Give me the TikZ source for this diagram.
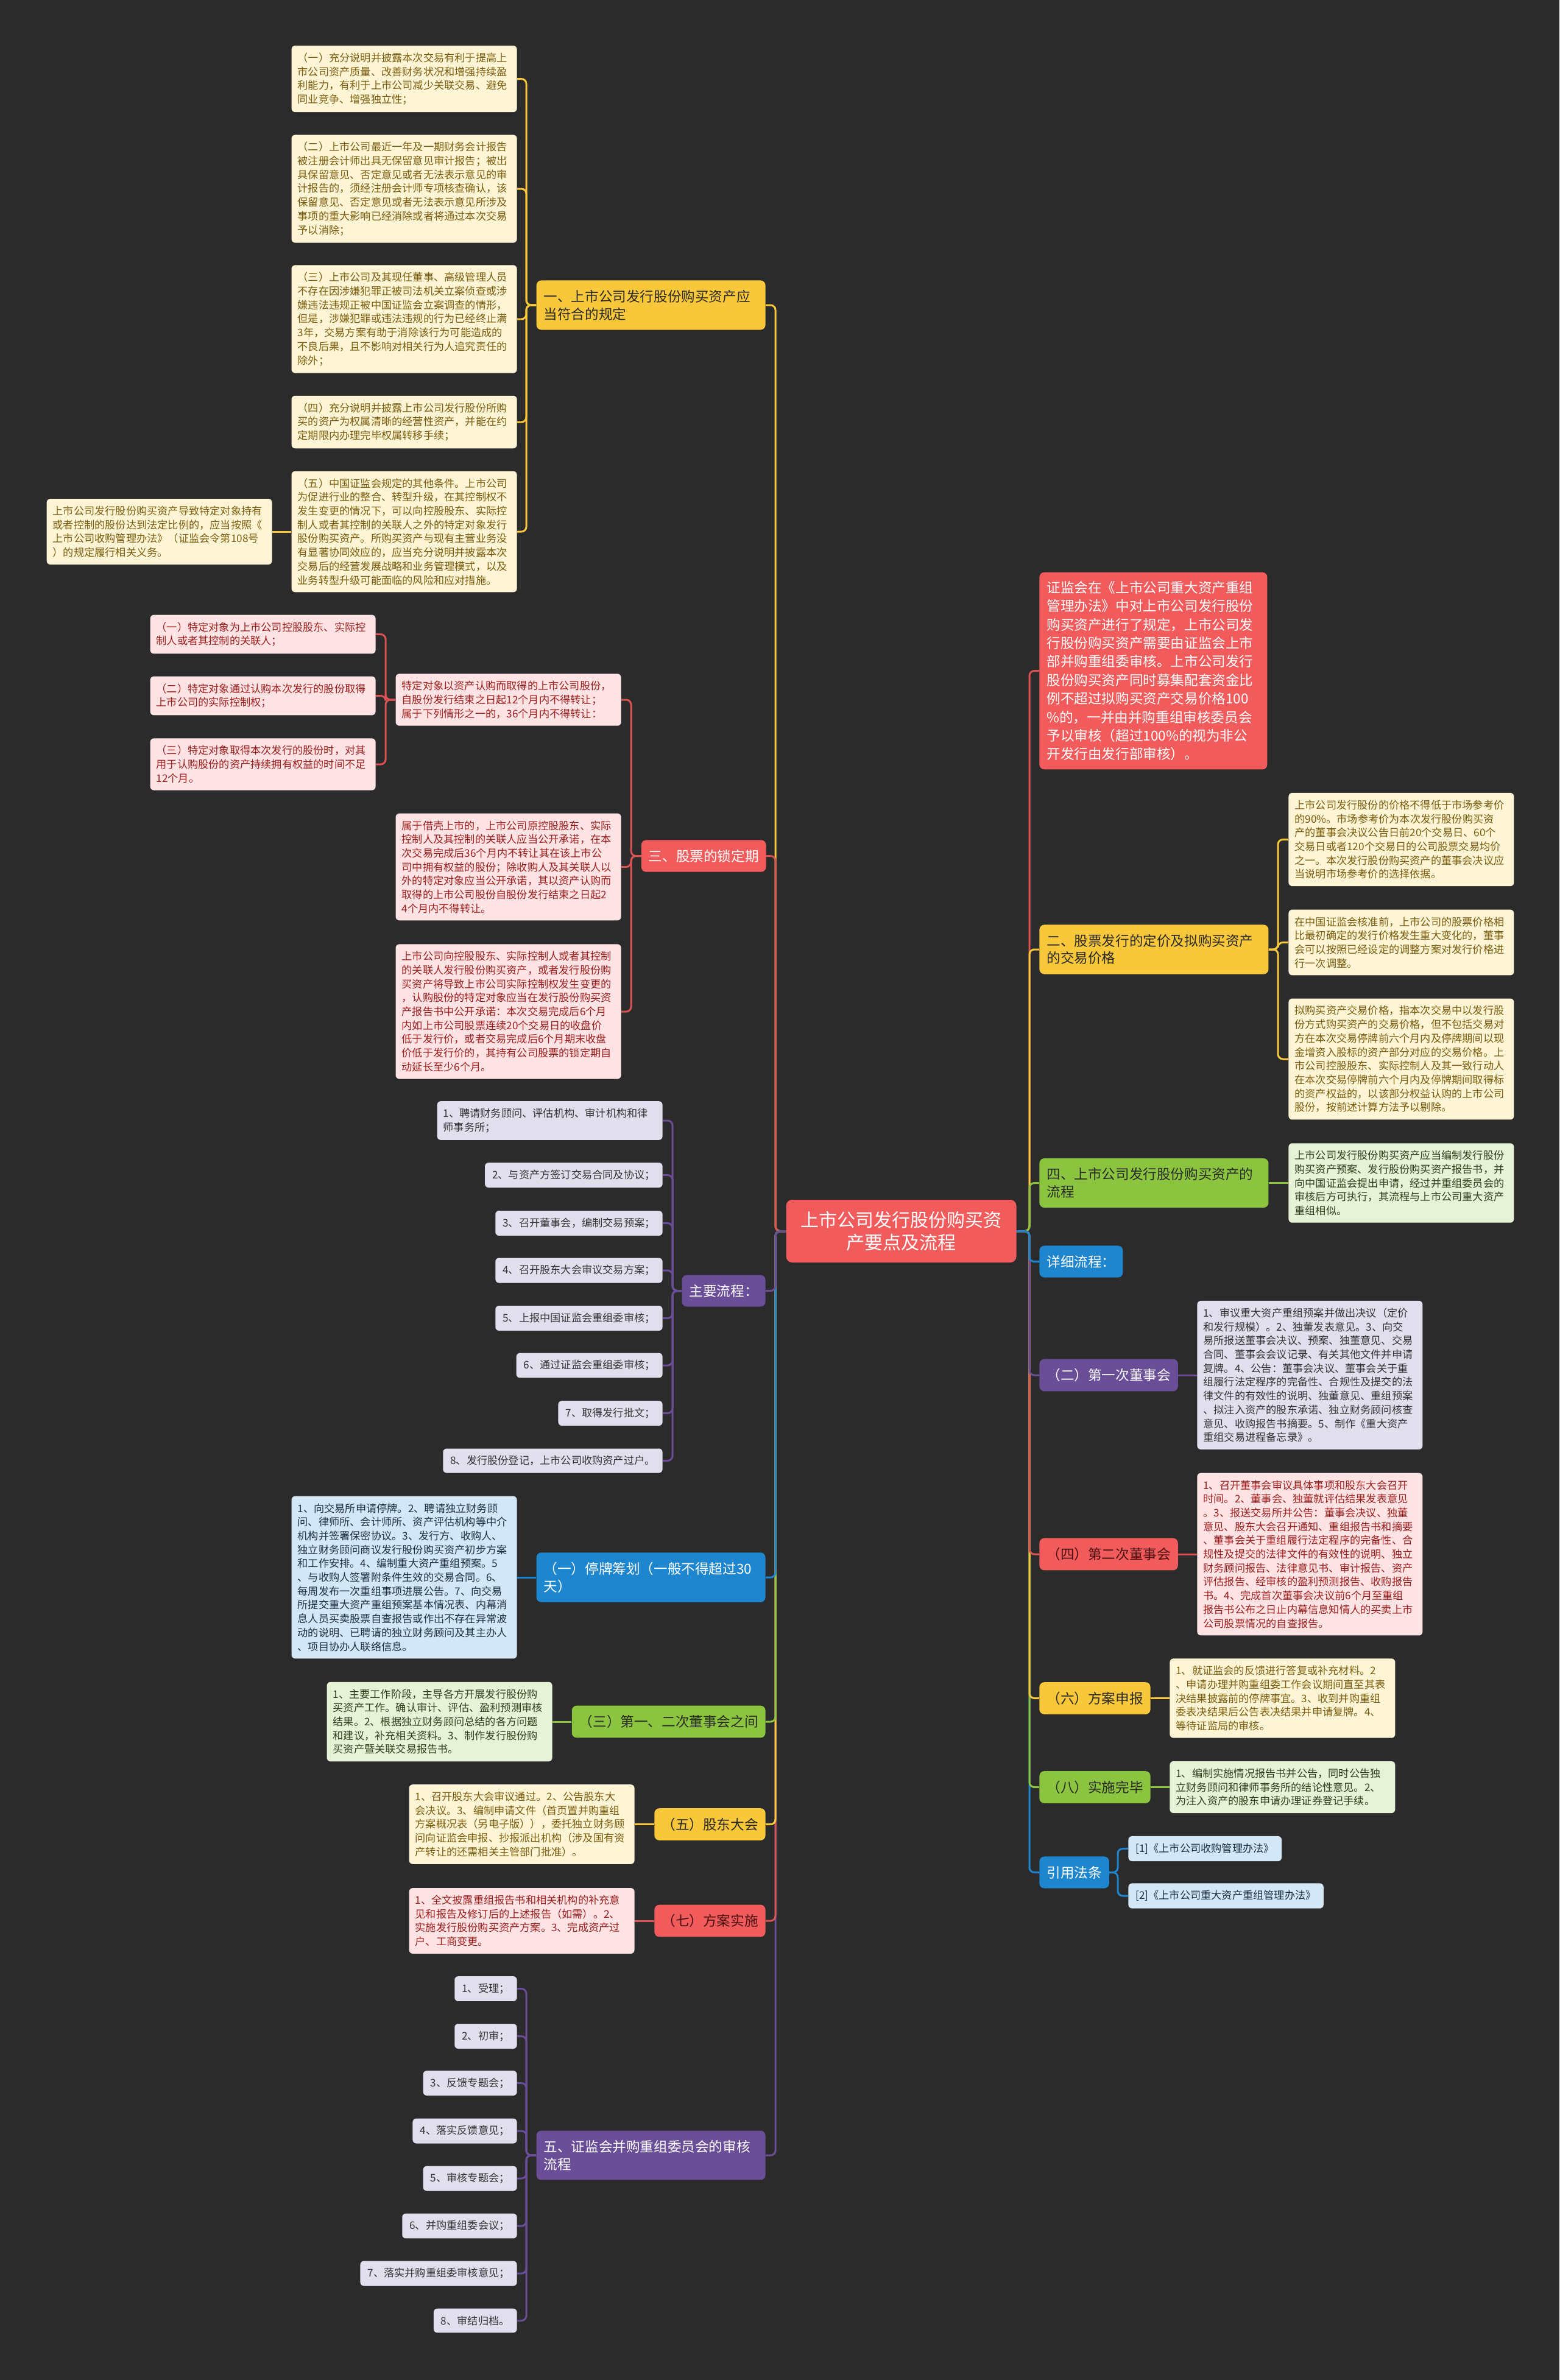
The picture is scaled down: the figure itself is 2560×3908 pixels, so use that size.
\documentclass[tikz,border=0pt]{standalone}
\usepackage{fontspec}
\setmainfont{Noto Sans CJK SC}
\definecolor{bg}{HTML}{2B2B2B}
\definecolor{cyel}{HTML}{F8C73A}
\definecolor{cred}{HTML}{F25B5B}
\definecolor{cpur}{HTML}{6A4E97}
\definecolor{cblu}{HTML}{1E86CE}
\definecolor{cgrn}{HTML}{8BC53F}
\definecolor{lyel}{HTML}{FDF5D6}
\definecolor{tyel}{HTML}{7A5C0C}
\definecolor{lred}{HTML}{FDE3E3}
\definecolor{tred}{HTML}{9E1E1E}
\definecolor{lpur}{HTML}{E1DEEE}
\definecolor{tpur}{HTML}{333333}
\definecolor{lblu}{HTML}{D3E7F6}
\definecolor{tblu}{HTML}{1C2E42}
\definecolor{lgrn}{HTML}{E6F3D6}
\definecolor{tgrn}{HTML}{2E3F1C}
\definecolor{hdark}{HTML}{2A2A2A}
\definecolor{hmar}{HTML}{4A1010}
\begin{document}
\begin{tikzpicture}[x=0.5pt,y=-0.5pt,
 leaf/.style={rounded corners=3pt, inner xsep=5pt, inner ysep=5.9pt, font=\fontsize{8.6pt}{11.35pt}\selectfont, align=left},
 lw/.style={text width=175pt},
 sgl/.style={inner xsep=6pt},
 hdr/.style={rounded corners=4pt, inner xsep=6pt, inner ysep=7.8pt, font=\fontsize{11.3pt}{14.4pt}\selectfont, align=left},
 hw/.style={text width=176pt},
 Ly/.style={leaf, fill=lyel, text=tyel},
 Lr/.style={leaf, fill=lred, text=tred},
 Lp/.style={leaf, fill=lpur, text=tpur},
 Lb/.style={leaf, fill=lblu, text=tblu},
 Lg/.style={leaf, fill=lgrn, text=tgrn},
 Hy/.style={hdr, fill=cyel, text=hdark},
 Hr/.style={hdr, fill=cred, text=hmar},
 Hp/.style={hdr, fill=cpur, text=white},
 Hb/.style={hdr, fill=cblu, text=white},
 Hg/.style={hdr, fill=cgrn, text=hdark},
 con/.style={line width=1.5pt, rounded corners=4pt},
 cy/.style={con, draw=cyel},
 cr/.style={con, draw=cred!90!black},
 cp/.style={con, draw=cpur},
 cb/.style={con, draw=cblu},
 cg/.style={con, draw=cgrn}
]
\useasboundingbox (0,0) rectangle (2560,3908);
\fill[bg] (0,0) rectangle (2560,3908);

% centre
\node[fill=cred, text=white, rounded corners=5pt, font=\fontsize{15pt}{18.5pt}\selectfont, align=center, inner xsep=12pt, inner ysep=9.5pt] (C) at (1479.5,2021.5) {上市公司发行股份购买资\\产要点及流程};

% trunk coordinates
\coordinate (tL) at (1273,0);
\coordinate (tR) at (1690,0);

% ---------------- left branches ----------------
\node[Hy, hw, anchor=east] (L1) at (1257,501) {一、上市公司发行股份购买资产应\\当符合的规定};
\node[Hr, text=white, anchor=east] (L3) at (1258,1405.5) {三、股票的锁定期};
\node[Hp, anchor=east] (L4) at (1257,2119.5) {主要流程：};
\node[Hb, hw, anchor=east] (L5) at (1257,2590) {（一）停牌筹划（一般不得超过30\\天）};
\node[Hg, anchor=east] (L6) at (1257,2827) {（三）第一、二次董事会之间};
\node[Hy, anchor=east] (L7) at (1257,2995.5) {（五）股东大会};
\node[Hr, anchor=east] (L8) at (1257,3154) {（七）方案实施};
\node[Hp, hw, anchor=east] (L9) at (1257,3539) {五、证监会并购重组委员会的审核\\流程};

% L1 leaves
\coordinate (bA) at (864,0);
\node[Ly, lw, anchor=east] (A1) at (849,129.5) {（一）充分说明并披露本次交易有利于提高上\\市公司资产质量、改善财务状况和增强持续盈\\利能力，有利于上市公司减少关联交易、避免\\同业竞争、增强独立性；};
\node[Ly, lw, anchor=east] (A2) at (849,310) {（二）上市公司最近一年及一期财务会计报告\\被注册会计师出具无保留意见审计报告；被出\\具保留意见、否定意见或者无法表示意见的审\\计报告的，须经注册会计师专项核查确认，该\\保留意见、否定意见或者无法表示意见所涉及\\事项的重大影响已经消除或者将通过本次交易\\予以消除；};
\node[Ly, lw, anchor=east] (A3) at (849,524) {（三）上市公司及其现任董事、高级管理人员\\不存在因涉嫌犯罪正被司法机关立案侦查或涉\\嫌违法违规正被中国证监会立案调查的情形，\\但是，涉嫌犯罪或违法违规的行为已经终止满\\3年，交易方案有助于消除该行为可能造成的\\不良后果，且不影响对相关行为人追究责任的\\除外；};
\node[Ly, lw, anchor=east] (A4) at (849,693) {（四）充分说明并披露上市公司发行股份所购\\买的资产为权属清晰的经营性资产，并能在约\\定期限内办理完毕权属转移手续；};
\node[Ly, lw, anchor=east] (A5) at (849,873) {（五）中国证监会规定的其他条件。上市公司\\为促进行业的整合、转型升级，在其控制权不\\发生变更的情况下，可以向控股股东、实际控\\制人或者其控制的关联人之外的特定对象发行\\股份购买资产。所购买资产与现有主营业务没\\有显著协同效应的，应当充分说明并披露本次\\交易后的经营发展战略和业务管理模式，以及\\业务转型升级可能面临的风险和应对措施。};
\node[Ly, lw, anchor=east] (A5a) at (447,873) {上市公司发行股份购买资产导致特定对象持有\\或者控制的股份达到法定比例的，应当按照《\\上市公司收购管理办法》（证监会令第108号\\）的规定履行相关义务。};

% L3 leaves
\coordinate (bL3) at (1036,0);
\coordinate (bB) at (633,0);
\node[Lr, lw, anchor=east] (B1) at (1020,1149) {特定对象以资产认购而取得的上市公司股份，\\自股份发行结束之日起12个月内不得转让；\\属于下列情形之一的，36个月内不得转让：};
\node[Lr, lw, anchor=east] (B2) at (1020,1423.5) {属于借壳上市的，上市公司原控股股东、实际\\控制人及其控制的关联人应当公开承诺，在本\\次交易完成后36个月内不转让其在该上市公\\司中拥有权益的股份；除收购人及其关联人以\\外的特定对象应当公开承诺，其以资产认购而\\取得的上市公司股份自股份发行结束之日起2\\4个月内不得转让。};
\node[Lr, lw, anchor=east] (B3) at (1020,1661) {上市公司向控股股东、实际控制人或者其控制\\的关联人发行股份购买资产，或者发行股份购\\买资产将导致上市公司实际控制权发生变更的\\，认购股份的特定对象应当在发行股份购买资\\产报告书中公开承诺：本次交易完成后6个月\\内如上市公司股票连续20个交易日的收盘价\\低于发行价，或者交易完成后6个月期末收盘\\价低于发行价的，其持有公司股票的锁定期自\\动延长至少6个月。};
\node[Lr, lw, anchor=east] (B1a) at (617,1041.5) {（一）特定对象为上市公司控股股东、实际控\\制人或者其控制的关联人；};
\node[Lr, lw, anchor=east] (B1b) at (617,1142.5) {（二）特定对象通过认购本次发行的股份取得\\上市公司的实际控制权；};
\node[Lr, lw, anchor=east] (B1c) at (617,1255) {（三）特定对象取得本次发行的股份时，对其\\用于认购股份的资产持续拥有权益的时间不足\\12个月。};

% L4 leaves
\coordinate (bC) at (1104,0);
\node[Lp, lw, anchor=east] (C1) at (1088,1840) {1、聘请财务顾问、评估机构、审计机构和律\\师事务所；};
\node[Lp, sgl, anchor=east] (C2) at (1088,1929.5) {2、与资产方签订交易合同及协议；};
\node[Lp, sgl, anchor=east] (C3) at (1088,2008.5) {3、召开董事会，编制交易预案；};
\node[Lp, sgl, anchor=east] (C4) at (1088,2086) {4、召开股东大会审议交易方案；};
\node[Lp, sgl, anchor=east] (C5) at (1088,2164.5) {5、上报中国证监会重组委审核；};
\node[Lp, sgl, anchor=east] (C6) at (1088,2242) {6、通过证监会重组委审核；};
\node[Lp, sgl, anchor=east] (C7) at (1088,2320.5) {7、取得发行批文；};
\node[Lp, sgl, anchor=east] (C8) at (1088,2398.5) {8、发行股份登记，上市公司收购资产过户。};

% L5..L8 leaves
\node[Lb, lw, anchor=east] (D1) at (849,2590) {1、向交易所申请停牌。2、聘请独立财务顾\\问、律师所、会计师所、资产评估机构等中介\\机构并签署保密协议。3、发行方、收购人、\\独立财务顾问商议发行股份购买资产初步方案\\和工作安排。4、编制重大资产重组预案。5\\、与收购人签署附条件生效的交易合同。6、\\每周发布一次重组事项进展公告。7、向交易\\所提交重大资产重组预案基本情况表、内幕消\\息人员买卖股票自查报告或作出不存在异常波\\动的说明、已聘请的独立财务顾问及其主办人\\、项目协办人联络信息。};
\node[Lg, lw, anchor=east] (D2) at (907,2827) {1、主要工作阶段，主导各方开展发行股份购\\买资产工作。确认审计、评估、盈利预测审核\\结果。2、根据独立财务顾问总结的各方问题\\和建议，补充相关资料。3、制作发行股份购\\买资产暨关联交易报告书。};
\node[Ly, lw, anchor=east] (D3) at (1042,2995.5) {1、召开股东大会审议通过。2、公告股东大\\会决议。3、编制申请文件（首页置并购重组\\方案概况表（另电子版）），委托独立财务顾\\问向证监会申报、抄报派出机构（涉及国有资\\产转让的还需相关主管部门批准）。};
\node[Lr, lw, anchor=east] (D4) at (1042,3154) {1、全文披露重组报告书和相关机构的补充意\\见和报告及修订后的上述报告（如需）。2、\\实施发行股份购买资产方案。3、完成资产过\\户、工商变更。};

% L9 leaves
\coordinate (bE) at (864,0);
\node[Lp, sgl, anchor=east] (E1) at (849,3265.5) {1、受理；};
\node[Lp, sgl, anchor=east] (E2) at (849,3343.5) {2、初审；};
\node[Lp, sgl, anchor=east] (E3) at (849,3420.5) {3、反馈专题会；};
\node[Lp, sgl, anchor=east] (E4) at (849,3499) {4、落实反馈意见；};
\node[Lp, sgl, anchor=east] (E5) at (849,3577) {5、审核专题会；};
\node[Lp, sgl, anchor=east] (E6) at (849,3655) {6、并购重组委会议；};
\node[Lp, sgl, anchor=east] (E7) at (849,3733) {7、落实并购重组委审核意见；};
\node[Lp, sgl, anchor=east] (E8) at (849,3810.5) {8、审结归档。};

% ---------------- right branches ----------------
\node[hdr, fill=cred, text=white, text width=175pt, anchor=west, font=\fontsize{11.3pt}{15.2pt}\selectfont, inner ysep=7.2pt] (R1) at (1706,1101.5) {证监会在《上市公司重大资产重组\\管理办法》中对上市公司发行股份\\购买资产进行了规定，上市公司发\\行股份购买资产需要由证监会上市\\部并购重组委审核。上市公司发行\\股份购买资产同时募集配套资金比\\例不超过拟购买资产交易价格100\\\%的，一并由并购重组审核委员会\\予以审核（超过100\%的视为非公\\开发行由发行部审核）。};
\node[Hy, hw, anchor=west] (R2) at (1706,1559) {二、股票发行的定价及拟购买资产\\的交易价格};
\node[Hg, hw, anchor=west] (R3) at (1706,1942.5) {四、上市公司发行股份购买资产的\\流程};
\node[Hb, anchor=west] (R4) at (1706,2071.5) {详细流程：};
\node[Hp, anchor=west] (R5) at (1706,2258) {（二）第一次董事会};
\node[Hr, anchor=west] (R6) at (1706,2552) {（四）第二次董事会};
\node[Hy, anchor=west] (R7) at (1706,2788.5) {（六）方案申报};
\node[Hg, anchor=west] (R8) at (1706,2934.5) {（八）实施完毕};
\node[Hb, anchor=west] (R9) at (1706,3074.5) {引用法条};

\coordinate (bF) at (2098,0);
\node[Ly, lw, anchor=west] (F1) at (2115,1378.5) {上市公司发行股份的价格不得低于市场参考价\\的90\%。市场参考价为本次发行股份购买资\\产的董事会决议公告日前20个交易日、60个\\交易日或者120个交易日的公司股票交易均价\\之一。本次发行股份购买资产的董事会决议应\\当说明市场参考价的选择依据。};
\node[Ly, lw, anchor=west] (F2) at (2115,1547.5) {在中国证监会核准前，上市公司的股票价格相\\比最初确定的发行价格发生重大变化的，董事\\会可以按照已经设定的调整方案对发行价格进\\行一次调整。};
\node[Ly, lw, anchor=west] (F3) at (2115,1739) {拟购买资产交易价格，指本次交易中以发行股\\份方式购买资产的交易价格，但不包括交易对\\方在本次交易停牌前六个月内及停牌期间以现\\金增资入股标的资产部分对应的交易价格。上\\市公司控股股东、实际控制人及其一致行动人\\在本次交易停牌前六个月内及停牌期间取得标\\的资产权益的，以该部分权益认购的上市公司\\股份，按前述计算方法予以剔除。};
\node[Lg, lw, anchor=west] (F4) at (2115,1942.5) {上市公司发行股份购买资产应当编制发行股份\\购买资产预案、发行股份购买资产报告书，并\\向中国证监会提出申请，经过并重组委员会的\\审核后方可执行，其流程与上市公司重大资产\\重组相似。};
\node[Lp, lw, anchor=west] (G1) at (1965,2258) {1、审议重大资产重组预案并做出决议（定价\\和发行规模）。2、独董发表意见。3、向交\\易所报送董事会决议、预案、独董意见、交易\\合同、董事会会议记录、有关其他文件并申请\\复牌。4、公告：董事会决议、董事会关于重\\组履行法定程序的完备性、合规性及提交的法\\律文件的有效性的说明、独董意见、重组预案\\、拟注入资产的股东承诺、独立财务顾问核查\\意见、收购报告书摘要。5、制作《重大资产\\重组交易进程备忘录》。};
\node[Lr, lw, anchor=west] (G2) at (1965,2552) {1、召开董事会审议具体事项和股东大会召开\\时间。2、董事会、独董就评估结果发表意见\\。3、报送交易所并公告：董事会决议、独董\\意见、股东大会召开通知、重组报告书和摘要\\、董事会关于重组履行法定程序的完备性、合\\规性及提交的法律文件的有效性的说明、独立\\财务顾问报告、法律意见书、审计报告、资产\\评估报告、经审核的盈利预测报告、收购报告\\书。4、完成首次董事会决议前6个月至重组\\报告书公布之日止内幕信息知情人的买卖上市\\公司股票情况的自查报告。};
\node[Ly, lw, anchor=west] (G3) at (1920,2788.5) {1、就证监会的反馈进行答复或补充材料。2\\、申请办理并购重组委工作会议期间直至其表\\决结果披露前的停牌事宜。3、收到并购重组\\委表决结果后公告表决结果并申请复牌。4、\\等待证监局的审核。};
\node[Lg, lw, anchor=west] (G4) at (1920,2934.5) {1、编制实施情况报告书并公告，同时公告独\\立财务顾问和律师事务所的结论性意见。2、\\为注入资产的股东申请办理证券登记手续。};
\coordinate (bH) at (1835,0);
\node[Lb, sgl, anchor=west] (H1) at (1852,3035.5) {[1]《上市公司收购管理办法》};
\node[Lb, sgl, anchor=west] (H2) at (1852,3113) {[2]《上市公司重大资产重组管理办法》};

% ---------------- connectors ----------------
% trunk left (far first)
\draw[cy] (C.west) -- (C.west -| tL) |- (L1.east);
\draw[cr] (C.west) -- (C.west -| tL) |- (L3.east);
\draw[cp] (C.west) -- (C.west -| tL) |- (L9.east);
\draw[cr] (C.west) -- (C.west -| tL) |- (L8.east);
\draw[cy] (C.west) -- (C.west -| tL) |- (L7.east);
\draw[cg] (C.west) -- (C.west -| tL) |- (L6.east);
\draw[cb] (C.west) -- (C.west -| tL) |- (L5.east);
\draw[cp] (C.west) -- (C.west -| tL) |- (L4.east);
% trunk right
\draw[cr] (C.east) -- (C.east -| tR) |- (R1.west);
\draw[cy] (C.east) -- (C.east -| tR) |- (R2.west);
\draw[cg] (C.east) -- (C.east -| tR) |- (R3.west);
\draw[cb] (C.east) -- (C.east -| tR) |- (R9.west);
\draw[cg] (C.east) -- (C.east -| tR) |- (R8.west);
\draw[cy] (C.east) -- (C.east -| tR) |- (R7.west);
\draw[cr] (C.east) -- (C.east -| tR) |- (R6.west);
\draw[cp] (C.east) -- (C.east -| tR) |- (R5.west);
\draw[cb] (C.east) -- (C.east -| tR) |- (R4.west);

% L1
\foreach \n in {A1,A2,A3,A4,A5}
  \draw[cy] (L1.west) -- (L1.west -| bA) |- (\n.east);
\draw[cy] (A5.west) -- (A5.west -| A5a.east);
% L3
\foreach \n in {B1,B2,B3}
  \draw[cr] (L3.west) -- (L3.west -| bL3) |- (\n.east);
\foreach \n in {B1a,B1b,B1c}
  \draw[cr] (B1.west) -- (B1.west -| bB) |- (\n.east);
% L4
\foreach \n in {C1,C2,C3,C4,C5,C6,C7,C8}
  \draw[cp] (L4.west) -- (L4.west -| bC) |- (\n.east);
% L5..L8
\draw[cb] (L5.west) -- (L5.west -| D1.east);
\draw[cg] (L6.west) -- (L6.west -| D2.east);
\draw[cy] (L7.west) -- (L7.west -| D3.east);
\draw[cr] (L8.west) -- (L8.west -| D4.east);
% L9
\foreach \n in {E1,E2,E3,E4,E5,E6,E7,E8}
  \draw[cp] (L9.west) -- (L9.west -| bE) |- (\n.east);
% right
\foreach \n in {F1,F2,F3}
  \draw[cy] (R2.east) -- (R2.east -| bF) |- (\n.west);
\draw[cg] (R3.east) -- (R3.east -| F4.west);
\draw[cp] (R5.east) -- (R5.east -| G1.west);
\draw[cr] (R6.east) -- (R6.east -| G2.west);
\draw[cy] (R7.east) -- (R7.east -| G3.west);
\draw[cg] (R8.east) -- (R8.east -| G4.west);
\foreach \n in {H1,H2}
  \draw[cb] (R9.east) -- (R9.east -| bH) |- (\n.west);
\end{tikzpicture}
\end{document}
